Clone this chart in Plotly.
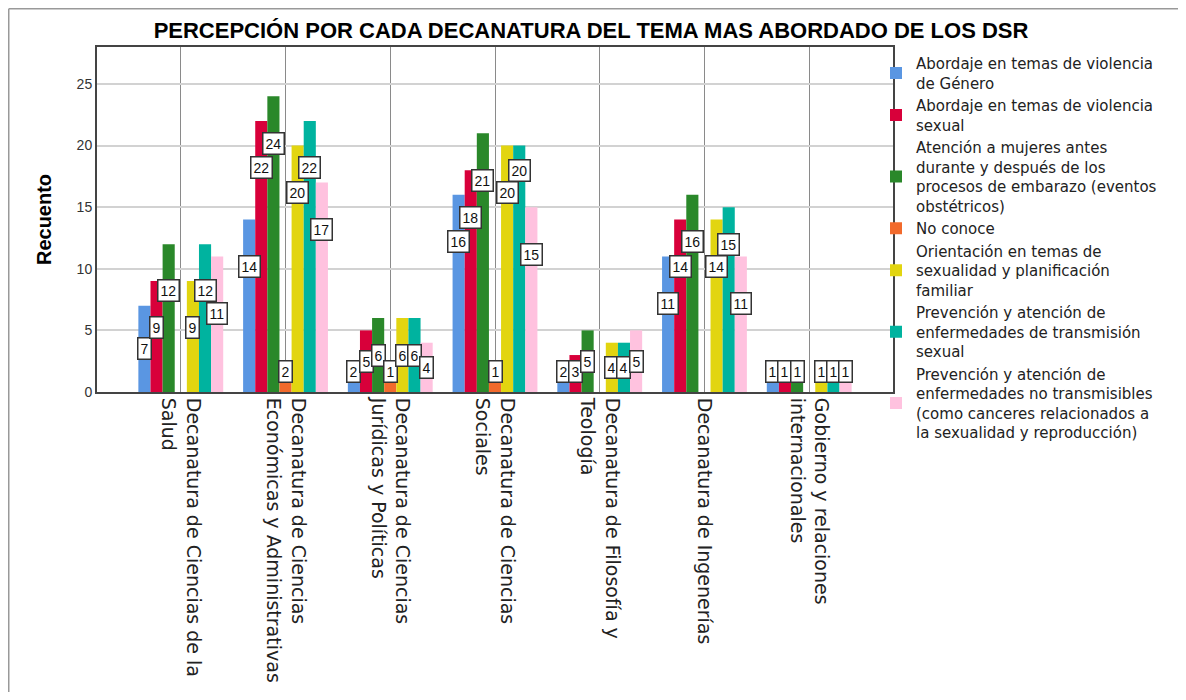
import plotly.graph_objects as go

# Categorías (decanaturas)
categorias = [
    "Decanatura de Ciencias de la<br>Salud",
    "Decanatura de Ciencias<br>Económicas y Administrativas",
    "Decanatura de Ciencias<br>Jurídicas y Políticas",
    "Decanatura de Ciencias<br>Sociales",
    "Decanatura de Filosofía y<br>Teología",
    "Decanatura de Ingenerías",
    "Gobierno y relaciones<br>internacionales",
]

# Series (temas) y recuentos por decanatura
temas = [
    "Abordaje en temas de violencia<br>de Género",
    "Abordaje en temas de violencia<br>sexual",
    "Atención a mujeres antes<br>durante y después de los<br>procesos de embarazo (eventos<br>obstétricos)",
    "No conoce",
    "Orientación en temas de<br>sexualidad y planificación<br>familiar",
    "Prevención y atención de<br>enfermedades de transmisión<br>sexual",
    "Prevención y atención de<br>enfermedades no transmisibles<br>(como canceres relacionados a<br>la sexualidad y reproducción)",
]

violencia_genero = [7, 14, 2, 16, 2, 11, 1]
violencia_sexual = [9, 22, 5, 18, 3, 14, 1]
embarazo = [12, 24, 6, 21, 5, 16, 1]
no_conoce = [0, 2, 1, 1, 0, 0, 0]
planificacion = [9, 20, 6, 20, 4, 14, 1]
transmision = [12, 22, 6, 20, 4, 15, 1]
no_transmisibles = [11, 17, 4, 15, 5, 11, 1]

series = [violencia_genero, violencia_sexual, embarazo, no_conoce,
          planificacion, transmision, no_transmisibles]

colores = ["#5a96e2", "#d8003a", "#2a882a", "#f26a2c",
           "#e2d510", "#00b39f", "#ffc2df"]

# Layout constants (pixels, page has an 8px body margin)
W, H = 1170, 684
ML, MR, MT, MB = 89, 285, 39, 300
BARGAP = 0.19
XRANGE = [-0.8, 6.8]

fig = go.Figure()

for nombre, valores, color in zip(temas, series, colores):
    fig.add_trace(go.Bar(
        x=categorias,
        y=valores,
        name=nombre,
        marker=dict(color=color, line=dict(width=0)),
        hoverinfo="x+y+name",
    ))

# Data labels as boxed annotations, nudged when two-digit boxes collide
plot_w = W - ML - MR
plot_h = H - MT - MB
px_per_cat = plot_w / (XRANGE[1] - XRANGE[0])
bar_px = px_per_cat * (1 - BARGAP) / len(series)
for j, cat in enumerate(categorias):
    prev_y, prev_v = None, 0
    for i, valores in enumerate(series):
        v = valores[j]
        if not v:
            prev_y, prev_v = None, 0
            continue
        y_lab = max(v - 3.8, v / 2, 1.7)
        if prev_y is not None and abs(y_lab - prev_y) < 1.6 and (v >= 10 or prev_v >= 10):
            y_lab = prev_y + 1.8 if v >= prev_v else prev_y - 1.8
        prev_y, prev_v = y_lab, v
        fig.add_annotation(
            x=cat, y=y_lab, text=str(v), showarrow=False,
            xshift=(i - 3) * bar_px,
            font=dict(family="Liberation Sans, Arial", size=14, color="#111"),
            bgcolor="white", bordercolor="#333", borderwidth=1.5, borderpad=2,
        )

# Outer frame lines (left and top)
fx = (0.75 - ML) / plot_w
fy = 1 + (MT - 0.75) / plot_h
fig.add_shape(type="line", xref="paper", yref="paper",
              x0=fx, x1=fx, y0=-MB / plot_h, y1=fy,
              line=dict(color="#999", width=1.5))
fig.add_shape(type="line", xref="paper", yref="paper",
              x0=fx, x1=(W - ML) / plot_w, y0=fy, y1=fy,
              line=dict(color="#999", width=1.5))

fig.update_layout(
    width=W, height=H,
    margin=dict(l=ML, r=MR, t=MT, b=MB, autoexpand=False),
    paper_bgcolor="white", plot_bgcolor="white",
    barmode="group", bargap=BARGAP, bargroupgap=0,
    font=dict(family="Liberation Sans, Arial", color="#222"),
    title=dict(
        text="<b>PERCEPCIÓN POR CADA DECANATURA DEL TEMA MAS ABORDADO DE LOS DSR</b>",
        x=(591 - 8) / W, xref="container", xanchor="center", y=1 - 22 / H, yanchor="middle",
        font=dict(size=22, color="#000"),
    ),
    legend=dict(
        x=(868 - ML) / plot_w, y=1.0, xanchor="left", yanchor="top",
        font=dict(family="DejaVu Sans, Liberation Sans", size=15, color="#222"),
        tracegroupgap=0, itemclick=False, maxheight=620,
        bgcolor="rgba(0,0,0,0)",
    ),
    xaxis=dict(
        type="category", range=XRANGE,
        tickangle=90, tickfont=dict(family="DejaVu Sans, Liberation Sans", size=19, color="#222"),
        showgrid=True, gridcolor="#8a8a8a", gridwidth=1,
        showline=True, linecolor="#444", linewidth=2, mirror=True,
        ticks="",
    ),
    yaxis=dict(
        range=[0, 28], tickvals=[0, 5, 10, 15, 20, 25],
        tickfont=dict(size=14, color="#333"),
        showgrid=True, gridcolor="#d2d2d2", gridwidth=2,
        showline=True, linecolor="#444", linewidth=2, mirror=True,
        zeroline=False, ticks="",
        title=dict(text="<b>Recuento</b>", font=dict(size=20, color="#000"), standoff=20),
    ),
)

fig.write_html("out.html")
